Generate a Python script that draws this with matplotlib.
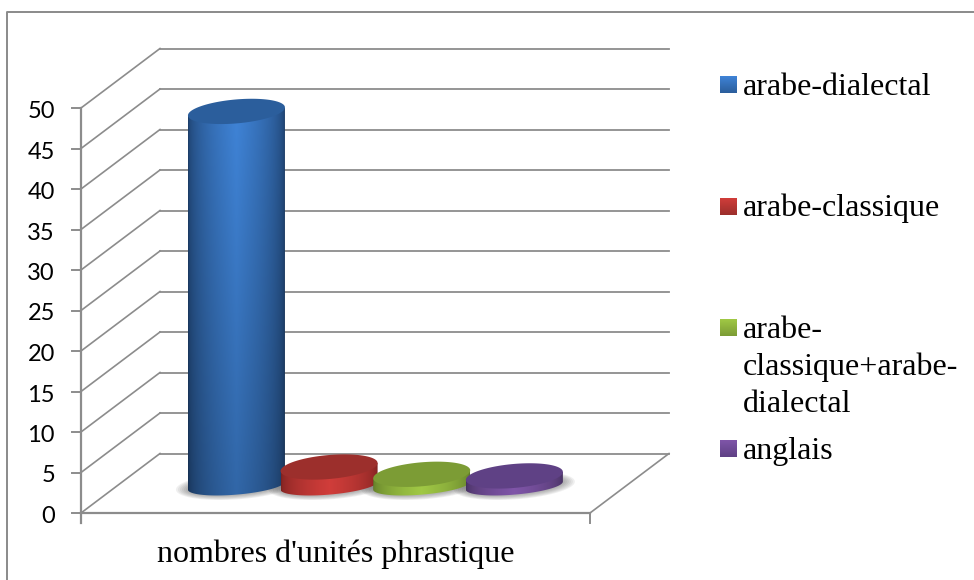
import numpy as np
import matplotlib
matplotlib.use("Agg")
import matplotlib.pyplot as plt
from matplotlib.patches import Polygon

W, H = 974, 580

series = ["arabe-dialectal", "arabe-classique", "arabe-\nclassique+arabe-\ndialectal", "anglais"]
values = [46.2, 2.3, 1.4, 1.2]
yticks = [0, 5, 10, 15, 20, 25, 30, 35, 40, 45, 50]
xlabel = "nombres d'unités phrastique"

# light / dark tones of each series
light = ["#3f83d6", "#d03d3a", "#a0c845", "#7f55a8"]
dark = ["#1d3f6b", "#7c2220", "#5f7a28", "#45305f"]
cap = ["#2b5e9c", "#9c2f2c", "#7c9c35", "#5f4185"]

grid_col = "#8c8c8c"
serif = "Liberation Serif"


def rgb(c):
    return np.array(matplotlib.colors.to_rgb(c))


fig = plt.figure(figsize=(W / 100, H / 100), dpi=100)

# overlay in pixels for the frame and the legend
lax = fig.add_axes([0, 0, 1, 1])
lax.set_xlim(0, W)
lax.set_ylim(H, 0)
lax.axis("off")

# front plane of the 3d box
x0, x1 = 81, 590
y0, y50 = 513, 108
ax = fig.add_axes([x0 / W, 1 - y0 / H, (x1 - x0) / W, (y0 - y50) / H])
ax.set_xlim(0, 1)
ax.set_ylim(0, 50)
ax.axis("off")

px = 1 / (x1 - x0)
py = 50 / (y0 - y50)
depth_x = 79 * px
depth_y = 59.5 * py

for v in yticks:
    ax.plot([0, depth_x], [v, v + depth_y], color=grid_col, lw=1.2, clip_on=False)
    ax.plot([depth_x, 1 + depth_x], [v + depth_y, v + depth_y], color=grid_col, lw=1.3, clip_on=False)
    ax.plot([-9 * px, 0], [v, v], color=grid_col, lw=1.4, clip_on=False)
    ax.text(-26 * px, v - 3.5 * py, str(v), ha="right", va="center", fontsize=17, family="Lato", color="black")

ax.plot([0, 0], [-9.5 * py, 50], color=grid_col, lw=1.6, clip_on=False)
ax.plot([0, 1], [0, 0], color=grid_col, lw=1.6, clip_on=False)
ax.plot([1, 1 + depth_x], [0, depth_y], color=grid_col, lw=1.2, clip_on=False)
ax.plot([1, 1], [0, -9.5 * py], color=grid_col, lw=1.4, clip_on=False)

# cylinders
rx = 48.5 * px
ry = 12 * py
ry_bottom = 9 * py
skew = 4 * py
base_frac = 0.46
t = np.linspace(0, 2 * np.pi, 120)
front = np.linspace(np.pi, 2 * np.pi, 60)
profile = np.concatenate([np.linspace(0, 1, 50) ** 0.5, np.linspace(1, 0, 50) ** 0.5])

for i, v in enumerate(values):
    cx = 0.507 + (i - 1.5) * 0.182 + base_frac * depth_x
    base = base_frac * depth_y
    top = base + v

    # soft shadow on the floor
    for grow in range(12, 0, -2):
        sx = rx + grow * px
        sy = ry_bottom + grow * 0.4 * py
        ax.fill(cx + sx * np.cos(t), base + sy * np.sin(t) + skew * np.cos(t),
                color="#555555", alpha=0.09, lw=0, clip_on=False, zorder=2 + i * 0.1)

    # side of the cylinder, clipped gradient
    xs = np.r_[cx - rx, cx + rx * np.cos(front), cx + rx]
    ys = np.r_[top - skew, base + ry_bottom * np.sin(front) + skew * np.cos(front), top + skew]
    side = Polygon(np.c_[xs, ys], closed=True, transform=ax.transData, lw=0)
    fade = np.linspace(1.0, 0.78, 40)[:, None, None] if v > 5 else np.ones((40, 1, 1))
    grad = (rgb(dark[i]) + (rgb(light[i]) - rgb(dark[i])) * profile[None, :, None]) * fade
    im = ax.imshow(grad, extent=[cx - rx, cx + rx, base - ry - skew, top + skew],
                   origin="upper", aspect="auto", zorder=3 + i * 0.1, clip_on=True)
    im.set_clip_path(side)

    # top cap
    ax.fill(cx + rx * np.cos(t), top + ry * np.sin(t) + skew * np.cos(t), color=cap[i], lw=0,
            clip_on=False, zorder=3.05 + i * 0.1)

ax.set_xlim(0, 1)
ax.set_ylim(0, 50)

lax.text(157, 562, xlabel, ha="left", va="baseline", fontsize=23, family=serif, color="black")

# outer frame, only top and left are in the picture
lax.plot([7, 7, W], [H, 12, 12], color="#8a8a8a", lw=1.4)

# legend
leg_y = [84.5, 206.5, 327.5, 448.5]
leg_base = [95, 216, 412, 459]
for i, name in enumerate(series):
    g = np.linspace(0, 1, 30)[:, None, None]
    sq = rgb(light[i]) * (1 - g) + rgb(cap[i]) * g
    lax.imshow(sq, extent=[720, 737, leg_y[i] + 8.5, leg_y[i] - 8.5], origin="upper",
               aspect="auto", zorder=2)
    lax.text(743, leg_base[i], name, ha="left", va="baseline", fontsize=23, family=serif,
             color="black", linespacing=1.35)
lax.set_xlim(0, W)
lax.set_ylim(H, 0)

fig.savefig("out.png", dpi=100)
